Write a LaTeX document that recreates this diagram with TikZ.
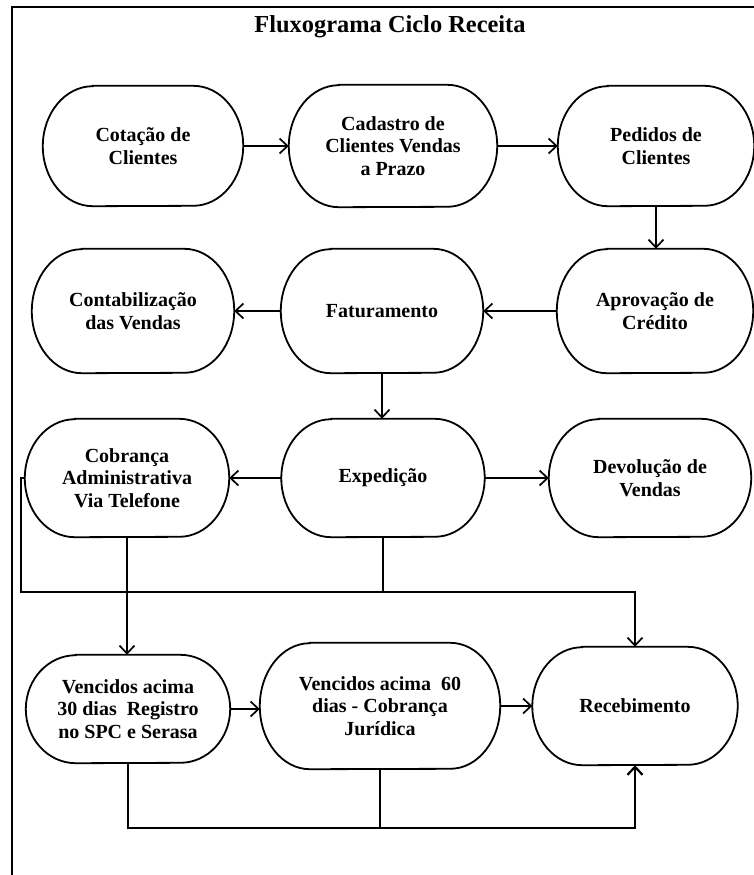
\documentclass[tikz,border=0pt]{standalone}
\usepackage{fontspec}
\setmainfont{Liberation Serif}
\usetikzlibrary{arrows.meta,calc}
\tikzset{
  stext/.style={inner sep=0pt, align=center, font=\bfseries\fontsize{20}{22.5}\selectfont},
  shapeline/.style={line width=1.8pt},
  conn/.style={line width=1.7pt},
  arr/.style={conn, -{Straight Barb[length=8pt,width=15pt]}},
}
\newcommand{\stad}[6]{%
  \node[stext, minimum width=#4pt, minimum height=#5pt] (#1) at (#2,#3) {#6};
  \draw[shapeline] ($(#1.north west)+(50pt,0pt)$) -- ($(#1.north east)+(-50pt,0pt)$)
     arc[start angle=90, end angle=-90, x radius=50pt, y radius=#5pt/2]
     -- ($(#1.south west)+(50pt,0pt)$)
     arc[start angle=270, end angle=90, x radius=50pt, y radius=#5pt/2] -- cycle;
}
\begin{document}
\begin{tikzpicture}[x=1pt,y=-1pt]
\useasboundingbox (0,0) rectangle (754,875);
% frame
\draw[line width=2pt] (754,7) -- (12,7) -- (12,875);
\node[font=\bfseries\fontsize{24.4}{26}\selectfont, inner sep=0pt, anchor=base] (title) at (390,33) {Fluxograma Ciclo Receita};
% row 1
\stad{cot}{143}{146}{200}{120}{Cotação de\\Clientes}
\stad{cad}{393}{146}{208}{122}{Cadastro de\\Clientes Vendas\\a Prazo}
\stad{ped}{656}{146}{196}{120}{Pedidos de\\Clientes}
% row 2
\stad{cont}{133}{311}{202}{124}{Contabilização\\das Vendas}
\stad{fat}{382}{311}{202}{124}{Faturamento}
\stad{apr}{655}{311}{196}{124}{Aprovação de\\Crédito}
% row 3
\stad{cob}{127}{478}{204}{118}{Cobrança\\Administrativa\\Via Telefone}
\stad{exp}{383}{478}{203}{118}{Expedição}
\stad{dev}{650}{478}{202}{118}{Devolução de\\Vendas}
% row 4
\stad{v30}{128}{709}{204}{108}{\fontsize{20}{24}\selectfont Vencidos acima\\30 dias~ Registro\\no SPC e Serasa}
\stad{v60}{380}{706}{240}{126}{\fontsize{20}{24}\selectfont Vencidos acima~ 60\\dias - Cobrança\\Jurídica}
\stad{rec}{635}{706}{205}{118}{Recebimento}
% connectors
\draw[arr] (cot.east) -- (cad.west);
\draw[arr] (cad.east) -- (ped.west);
\draw[arr] (ped.south) -- (ped.south |- apr.north);
\draw[arr] (apr.west) -- (fat.east);
\draw[arr] (fat.west) -- (cont.east);
\draw[arr] (fat.south) -- (fat.south |- exp.north);
\draw[arr] (exp.west) -- (cob.east);
\draw[arr] (exp.east) -- (dev.west);
\coordinate (j1) at (21,592);
\draw[arr] (cob.west) -| (j1) -- (j1 -| rec.north) -- (rec.north);
\draw[conn] (exp.south) -- (exp.south |- j1);
\draw[arr] (cob.south) -- (cob.south |- v30.north);
\draw[arr] (v30.east) -- (v30.east -| v60.west);
\draw[arr] (v60.east) -- (rec.west);
\coordinate (k1) at (127,828);
\draw[arr, line width=2.2pt] (v30.south) -- (v30.south |- k1) -- (k1 -| rec.south) -- (rec.south);
\draw[conn] (v60.south) -- (v60.south |- k1);
\end{tikzpicture}
\end{document}
